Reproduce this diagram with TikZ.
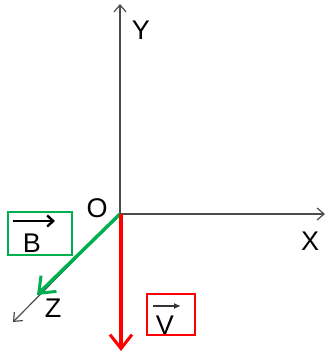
\documentclass[tikz,border=0pt]{standalone}
\usepackage{fontspec}
\setmainfont{Liberation Sans}
\usetikzlibrary{arrows.meta}
\definecolor{wordgreen}{RGB}{0,176,80}
\begin{document}
\begin{tikzpicture}[
    x=1pt, y=-1pt,
    axis/.style={gray!60!black, line width=1.2pt, -{Straight Barb[length=7pt,width=12pt]}},
    vec/.style={line width=3.5pt, -{Straight Barb[length=14pt,width=22pt,line width=3pt]}},
    lbl/.style={font=\fontsize{27}{29}\selectfont, inner sep=0pt},
    vbox/.style={draw, line width=1.3pt, inner sep=0pt}
]
\useasboundingbox (0,0) rectangle (327,353);

% Origin and axis ends
\coordinate (O) at (120,214);
\coordinate (Xend) at (325,214);
\coordinate (Yend) at (120,4);
\coordinate (Zend) at (13,322);

% Axes
\draw[axis] (O) -- (Xend);
\draw[axis] (O) -- (Yend);
\draw[axis] (O) -- (Zend);

% Field vector (green) and velocity (red)
\coordinate (Btip) at (37,295);
\coordinate (Vtip) at (121,351);
\draw[vec, wordgreen] (O) -- (Btip);
\draw[vec, red] (121,214) -- (Vtip);

% Axis labels
\node[lbl] (labO) at (97,208.5) {O};
\node[lbl] (labX) at (310,241) {X};
\node[lbl] (labY) at (141,30) {Y};
\node[lbl] (labZ) at (53,308) {Z};

% Vector labels
\node[vbox, wordgreen, minimum width=64pt, minimum height=43pt] (boxB) at (40,233.5) {};
\node[lbl] (letB) at (32,243) {B};
\draw[line width=2.6pt, -{Straight Barb[length=6pt,width=11pt,line width=2.4pt]}] (13,221) -- (55,221);
\node[vbox, red, minimum width=48pt, minimum height=41pt] (boxV) at (171,314.5) {};
\node[lbl] (letV) at (165,325) {V};
\draw[gray!40!black, line width=1.4pt, -{Latex[length=7pt,width=6pt]}] (153,306) -- (181,306);

\end{tikzpicture}
\end{document}
